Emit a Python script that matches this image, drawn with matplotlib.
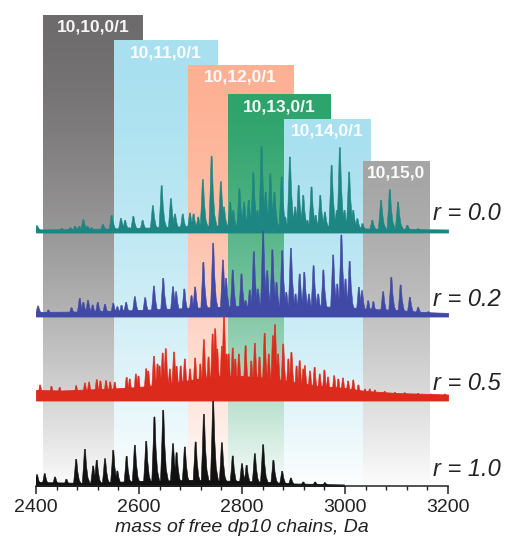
import numpy as np
import matplotlib.pyplot as plt
from matplotlib.collections import PolyCollection
from matplotlib.colors import to_rgb
from matplotlib.ticker import MultipleLocator

plt.rcParams['font.family'] = ['Liberation Sans', 'DejaVu Sans']

# composition windows (Da)
band_names = ['10,10,0/1', '10,11,0/1', '10,12,0/1', '10,13,0/1', '10,14,0/1', '10,15,0']
band_lo = [2414, 2551, 2695, 2773, 2882, 3035]
band_hi = [2608, 2752, 2899, 2973, 3049, 3164]
band_colors = ['#6d6b6c', '#a8e0ef', '#fdb093', '#2ea36c', '#a8e0ef', '#a5a5a5']

# r = 0.0 : peak mass (Da) / intensity (a.u.)
r00_mass = [2402, 2450, 2467, 2476, 2484, 2492, 2500, 2508, 2530, 2547, 2565, 2573, 2581,
            2589, 2607, 2627, 2644, 2662, 2670, 2685, 2699, 2706, 2715, 2724, 2741, 2759,
            2765, 2777, 2783, 2795, 2804, 2813, 2822, 2830, 2838, 2846, 2855, 2863, 2877,
            2884, 2893, 2903, 2910, 2919, 2927, 2935, 2943, 2952, 2961, 2974, 2984, 2990,
            2999, 3008, 3016, 3024, 3034, 3053, 3070, 3087, 3103, 3121, 3142]
r00_int = [5.3, 2.7, 3.3, 4.7, 4.7, 11.3, 4.7, 3.3, 6.7, 15.7, 12.7, 10.7, 3.3,
           14.7, 10.7, 25.3, 45.3, 32.3, 17, 17, 18, 17, 14, 51.3, 74.7, 49.3,
           24, 29, 20.7, 42.3, 29, 30.7, 58.3, 20.7, 84.7, 39, 57.3, 39, 54,
           14, 74, 24, 45.7, 35.7, 10.7, 44, 15.7, 35.7, 19, 65.7, 20.7, 83.3,
           20.7, 59, 20.7, 12.3, 7.3, 10.7, 30.7, 41.3, 29, 5.7, 2.3]
r00_floor_mass = [2400, 2500, 2600, 2700, 2800, 2900, 3000, 3040, 3100, 3200]
r00_floor = [1.5, 2, 3, 5, 6, 6, 5, 2.5, 2, 1.5]

# r = 0.2
r02_mass = [2404, 2424, 2469, 2485, 2492, 2501, 2510, 2520, 2534, 2550, 2558, 2566, 2575,
            2592, 2612, 2629, 2647, 2666, 2672, 2688, 2702, 2709, 2725, 2744, 2763, 2769,
            2782, 2799, 2807, 2815, 2823, 2831, 2841, 2849, 2859, 2867, 2878, 2886, 2895,
            2904, 2912, 2921, 2930, 2939, 2948, 2958, 2977, 2985, 2993, 3001, 3009, 3027,
            3033, 3045, 3055, 3074, 3090, 3108, 3126, 3142, 3162]
r02_int = [9, 5, 7.3, 16.7, 12.7, 14.7, 10, 12.7, 10.7, 11.7, 8.3, 9.7, 12.7,
           18.3, 17.3, 29, 36.7, 28.3, 23.3, 26, 19.3, 28, 52.7, 71.7, 55, 36.7,
           45, 41, 14.3, 25, 63.3, 26, 83.3, 44.3, 65.3, 32.7, 64.3, 22.7, 66.7,
           21, 41, 42.7, 21, 49.3, 21, 45, 60, 31, 80, 36, 53.7, 27.7,
           24.3, 14.3, 13.3, 23.3, 37.7, 30, 17.7, 7.7, 3.3]
r02_floor_mass = [2400, 2500, 2600, 2700, 2800, 2900, 3000, 3050, 3100, 3150, 3200]
r02_floor = [3, 3.5, 5, 7, 9, 9, 8, 6, 5, 3, 2]

# r = 0.5
r05_mass = [2408, 2430, 2446, 2478, 2495, 2503, 2518, 2525, 2536, 2544, 2553, 2576, 2582,
            2594, 2599, 2614, 2618, 2629, 2636, 2640, 2646, 2652, 2660, 2668, 2673, 2681,
            2689, 2699, 2709, 2719, 2726, 2735, 2743, 2748, 2752, 2761, 2765, 2770, 2774,
            2782, 2787, 2794, 2807, 2818, 2825, 2834, 2844, 2852, 2860, 2864, 2870, 2880,
            2890, 2896, 2906, 2912, 2919, 2922, 2932, 2941, 2951, 2960, 2967, 2979, 2987,
            2996, 3006, 3016, 3026, 3039, 3048, 3058, 3077, 3097, 3116, 3142, 3167, 3194]
r05_int = [14, 12.7, 11.7, 13.3, 16, 17, 19.3, 18, 18.3, 17, 16.7, 21.7, 20,
           25, 23, 30.3, 28, 42.7, 35, 33, 46, 50.3, 30, 47, 32.7, 33,
           40, 30, 41, 35, 59.3, 42, 65, 70.3, 50, 52.7, 82.7, 45, 45,
           51, 40, 45, 53.3, 38, 55.7, 42, 65.7, 45, 63.3, 74.3, 45, 55,
           40, 46.7, 33, 38.3, 30, 33.3, 28, 31.7, 25, 29, 22, 23.3, 20,
           21, 18, 19, 14, 10, 10, 9, 7.7, 6.7, 6.3, 5.7, 5, 5]
r05_floor_mass = [2400, 2450, 2500, 2550, 2600, 2650, 2700, 2750, 2800, 2850, 2900, 2950,
                  3000, 3040, 3100, 3200]
r05_floor = [9, 8.5, 9.5, 10.5, 12, 15, 19, 23, 23, 21, 17, 13, 11, 8, 6, 4.5]

# r = 1.0
r10_mass = [2402, 2417, 2437, 2459, 2478, 2495, 2511, 2518, 2534, 2550, 2558, 2576, 2592,
            2614, 2630, 2647, 2666, 2673, 2689, 2710, 2726, 2744, 2761, 2782, 2800, 2809,
            2825, 2841, 2861, 2878, 2895, 2919, 2942, 2961]
r10_int = [11.3, 12.3, 9, 6.7, 26.7, 36.7, 20, 25.7, 27.3, 35.7, 15, 29.7, 40.7,
           44.7, 69, 75.7, 42.3, 33.3, 39, 44, 71.7, 84.7, 43.3, 30, 22.3, 20.7,
           32.3, 41.3, 25.7, 14.7, 8, 4, 4, 3.3]
r10_floor_mass = [2400, 2500, 2600, 2700, 2800, 2850, 2900, 2998]
r10_floor = [4, 3, 5, 6, 5, 4, 2.5, 1.5]


def gradient_band(ax, x0, x1, top, color):
    f = np.linspace(0, 1, 256)[:, None]
    w = 0.97 * f ** 1.5
    img = (1 - w) * np.array(to_rgb(color)) + w
    ax.imshow(img[:, None, :], extent=(x0, x1, 0, top), origin='upper',
              aspect='auto', interpolation='bilinear', zorder=1)


def draw_trace(ax, fmass, fint, pmass, pint, off, color):
    fmass = np.asarray(fmass)
    fint = np.asarray(fint)
    ax.fill_between(fmass, off - 1.5, off + fint, color=color, lw=0.6, zorder=3)
    polys = []
    for m, h in zip(pmass, pint):
        polys.append([(m - 5.5, off), (m - 2.5, off + 0.6 * h), (m - 1, off + h),
                      (m + 1, off + h), (m + 3, off + 0.55 * h), (m + 6, off + 0.22 * h),
                      (m + 12, off)])
    ax.add_collection(PolyCollection(polys, facecolors=color, edgecolors=color,
                                     linewidths=0.4, zorder=3))


fig = plt.figure(figsize=(5.06, 5.41), dpi=100)
ax = fig.add_axes([36 / 506, 55 / 541, 412 / 506, 486 / 541])

band_top = [471, 446, 421, 392, 367, 325]
for lo, hi, top, col, name in zip(band_lo, band_hi, band_top, band_colors, band_names):
    gradient_band(ax, lo, hi, top, col)
    ax.text((lo + hi) / 2, top - 12.5, name, ha='center', va='center', color='white',
            fontsize=12.5, fontweight='bold', alpha=0.95, zorder=5)

draw_trace(ax, r00_floor_mass, r00_floor, r00_mass, r00_int, 255, '#1d8582')
draw_trace(ax, r02_floor_mass, r02_floor, r02_mass, r02_int, 171, '#4149a6')
draw_trace(ax, r05_floor_mass, r05_floor, r05_mass, r05_int, 87, '#dc2b1c')
draw_trace(ax, r10_floor_mass, r10_floor, r10_mass, r10_int, 0, '#111111')

for y, lab in zip([273, 187, 103, 16], ['r = 0.0', 'r = 0.2', 'r = 0.5', 'r = 1.0']):
    ax.text(3171, y, lab, style='italic', fontsize=17, color='#222222',
            ha='left', va='center', zorder=6)

ax.set_xlim(2400, 3200)
ax.set_ylim(0, 486)
ax.set_yticks([])
for s in ['left', 'right', 'top']:
    ax.spines[s].set_visible(False)
ax.spines['bottom'].set_linewidth(1.1)
ax.spines['bottom'].set_color('#222222')
ax.spines['bottom'].set_zorder(7)
ax.set_xticks(range(2400, 3201, 200))
ax.xaxis.set_minor_locator(MultipleLocator(40))
ax.tick_params(axis='x', which='major', length=5.5, width=1.1, color='#222222',
               labelsize=14, labelcolor='#222222', pad=4)
ax.tick_params(axis='x', which='minor', length=3, width=1, color='#222222')
ax.set_xlabel('mass of free dp10 chains, Da', style='italic', fontsize=14,
              color='#222222', labelpad=2)

fig.savefig('out.png', dpi=100)
